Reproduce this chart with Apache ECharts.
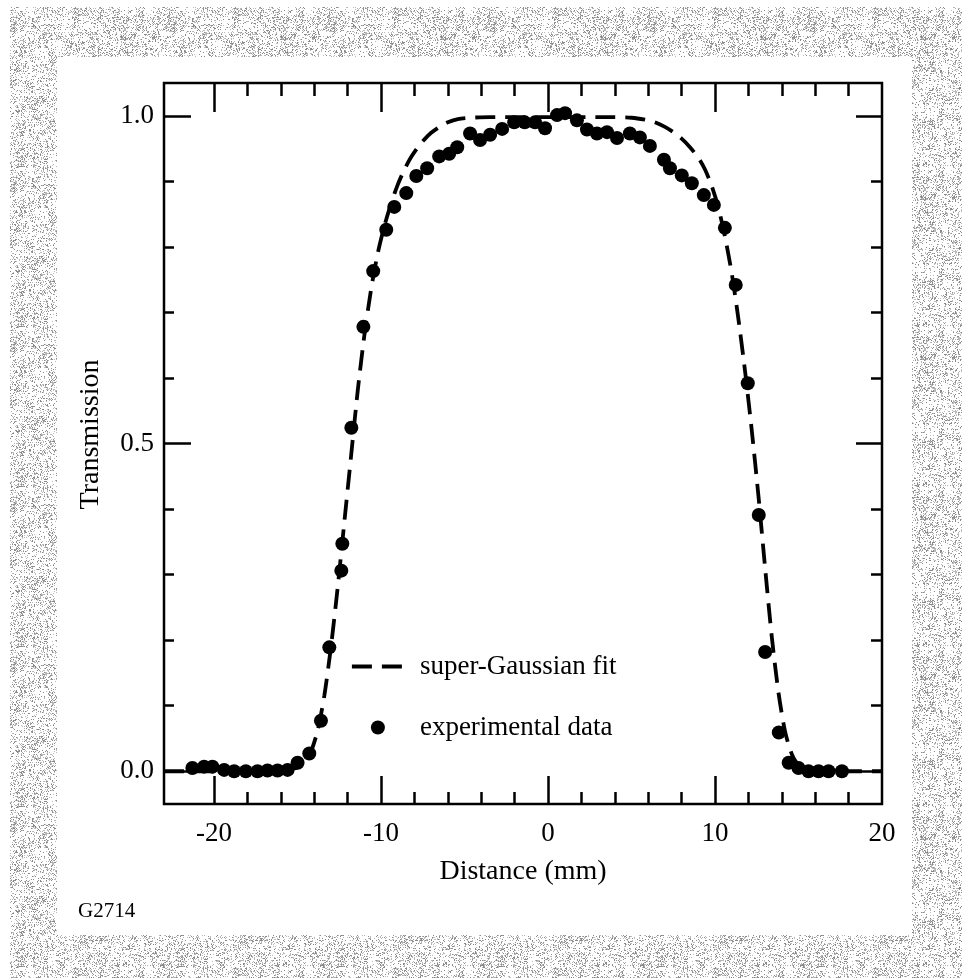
<!DOCTYPE html>
<html>
<head>
<meta charset="utf-8">
<script src="https://cdn.jsdelivr.net/npm/echarts@6/dist/echarts.min.js"></script>
<style>
  html, body { margin: 0; padding: 0; background: #fff; }
  #chart { width: 968px; height: 978px; }
</style>
</head>
<body>
<div id="chart"></div>
<script>
// Axis ticks and labels
const xTickMajor = [-20, -10, 0, 10];
const xTickMinor = [-18, -16, -14, -12, -8, -6, -4, -2, 2, 4, 6, 8, 12, 14, 16, 18];
const xTickLabels = [-20, -10, 0, 10, 20];
const yTickMajor = [0, 0.5, 1];
const yTickMinor = [0.1, 0.2, 0.3, 0.4, 0.6, 0.7, 0.8, 0.9];
const yTickLabels = [0, 0.5, 1];

// Measured transmission profile (distance in mm)
const dataDistance = [
  -21.3, -20.6, -20.1, -19.4, -18.8, -18.1, -17.4, -16.8, -16.2, -15.6,
  -15.0, -14.3, -13.6, -13.1, -12.38, -12.32, -11.78, -11.06, -10.47, -9.69,
  -9.21, -8.49, -7.89, -7.24, -6.52, -5.92, -5.44, -4.67, -4.07, -3.47,
  -2.75, -2.03, -1.4, -0.78, -0.18, 0.54, 1.02, 1.73, 2.33, 2.93,
  3.53, 4.13, 4.90, 5.50, 6.10, 6.94, 7.30, 8.01, 8.61, 9.33,
  9.93, 10.59, 11.24, 11.96, 12.62, 13.0, 13.82, 14.41, 15.0, 15.6,
  16.2, 16.8, 17.6
];
const dataTransmission = [
  0.005, 0.007, 0.007, 0.002, 0.000, 0.000, 0.000, 0.001, 0.001, 0.002,
  0.013, 0.027, 0.077, 0.189, 0.306, 0.347, 0.524, 0.678, 0.763, 0.826,
  0.861, 0.882, 0.908, 0.920, 0.938, 0.942, 0.952, 0.973, 0.963, 0.971,
  0.980, 0.990, 0.990, 0.990, 0.981, 1.001, 1.004, 0.993, 0.979, 0.973,
  0.975, 0.966, 0.973, 0.967, 0.954, 0.933, 0.920, 0.909, 0.897, 0.879,
  0.864, 0.829, 0.742, 0.592, 0.391, 0.182, 0.059, 0.013, 0.005, 0.000,
  0.000, 0.000, 0.000
];

// Super-Gaussian fit curve, sampled along the drawn fit
const fitDistance = [
  -23, -16, -15.5, -15.0, -14.6, -14.2, -13.8, -13.4, -13.0, -12.6,
  -12.2, -11.8, -11.4, -11.0, -10.6, -10.2, -9.8, -9.4, -9.0, -8.6,
  -8.2, -7.8, -7.4, -7.0, -6.5, -6.0, -5.4, -4.6, -3.5, 0,
  3.5, 5.0, 5.8, 6.4, 7.0, 7.5, 8.0, 8.5, 9.0, 9.4,
  9.8, 10.2, 10.6, 11.0, 11.4, 11.8, 12.2, 12.6, 13.0, 13.4,
  13.8, 14.2, 14.6, 15.0, 15.6, 16.5, 20
];
const fitTransmission = [
  0, 0, 0.002, 0.006, 0.014, 0.03, 0.062, 0.115, 0.19, 0.28,
  0.38, 0.48, 0.58, 0.665, 0.735, 0.79, 0.832, 0.866, 0.895, 0.918,
  0.937, 0.952, 0.964, 0.974, 0.983, 0.99, 0.995, 0.997, 0.998, 0.998,
  0.998, 0.997, 0.994, 0.99, 0.983, 0.975, 0.965, 0.952, 0.936, 0.918,
  0.893, 0.86, 0.815, 0.76, 0.69, 0.61, 0.52, 0.42, 0.31, 0.205,
  0.12, 0.06, 0.026, 0.01, 0.003, 0, 0
];

const FONT = 'Liberation Serif, Times New Roman, serif';
const INK = '#000';

const fitPoints = fitDistance.map((x, i) => [x, fitTransmission[i]]);
const dataPoints = dataDistance.map((x, i) => [x, dataTransmission[i]]);

// Integer hash used to scatter the stipple dots of the grey mat
function hash2(x, y) {
  let h = Math.imul(x, 374761393) + Math.imul(y, 668265263);
  h = Math.imul(h ^ (h >>> 13), 1274126177);
  h ^= h >>> 16;
  return (h >>> 0) / 4294967296;
}

// Stippled grey tile for the mat around the figure
function stippleTile() {
  const size = 160;
  const c = document.createElement('canvas');
  c.width = size; c.height = size;
  const g = c.getContext('2d');
  g.fillStyle = '#ffffff';
  g.fillRect(0, 0, size, size);
  for (let y = 0; y < size; y++) {
    for (let x = 0; x < size; x++) {
      const patch = hash2((x >> 3) + 101, (y >> 3) + 57);
      const density = 0.12 + 0.32 * patch;
      const v = hash2(x, y);
      if (v < density) {
        g.fillStyle = v < density * 0.45 ? '#8a8a8a' : '#b8b8b8';
        g.fillRect(x, y, 1, 1);
      }
    }
  }
  return c;
}

function tickAxis(kind, position, ticks, length, extra) {
  const base = {
    type: 'value',
    position: position,
    axisLine: { show: false, onZero: false },
    splitLine: { show: false },
    axisLabel: { show: false },
    axisTick: {
      show: true, inside: true, length: length, customValues: ticks,
      lineStyle: { color: INK, width: 2.5 }
    }
  };
  if (kind === 'x') { base.min = -23; base.max = 20; }
  else { base.min = -0.05; base.max = 1.05; }
  return Object.assign(base, extra || {});
}

const chart = echarts.init(document.getElementById('chart'), null, { renderer: 'canvas' });
const tile = stippleTile();

chart.setOption({
  animation: false,
  backgroundColor: '#fff',
  textStyle: { fontFamily: FONT, color: INK },
  graphic: [
    { type: 'rect', z: -10, silent: true,
      shape: { x: 10, y: 7, width: 952, height: 971 },
      style: { fill: { image: tile, repeat: 'repeat' } } },
    { type: 'rect', z: -9, silent: true,
      shape: { x: 57, y: 57, width: 855, height: 878 },
      style: { fill: '#ffffff' } },
    { type: 'text', left: 78, top: 901, silent: true,
      style: { text: 'G2714', font: '21px ' + FONT, fill: INK } }
  ],
  grid: {
    left: 164, right: 86, top: 83, bottom: 174,
    show: true, borderColor: INK, borderWidth: 2.5, backgroundColor: 'transparent'
  },
  xAxis: [
    tickAxis('x', 'bottom', xTickMajor, 28, {
      axisLabel: {
        show: true, customValues: xTickLabels, margin: 16,
        fontSize: 27, fontFamily: FONT, color: INK
      },
      name: 'Distance (mm)', nameLocation: 'middle', nameGap: 54,
      nameTextStyle: { fontSize: 28, fontFamily: FONT, color: INK }
    }),
    tickAxis('x', 'bottom', xTickMinor, 12),
    tickAxis('x', 'top', xTickMajor, 29),
    tickAxis('x', 'top', xTickMinor, 13)
  ],
  yAxis: [
    tickAxis('y', 'left', yTickMajor, 27, {
      axisLabel: {
        show: true, customValues: yTickLabels, margin: 10,
        fontSize: 27, fontFamily: FONT, color: INK,
        formatter: v => v.toFixed(1)
      },
      name: 'Transmission', nameLocation: 'middle', nameGap: 59,
      nameTextStyle: { fontSize: 28, fontFamily: FONT, color: INK, padding: [0, 0, 0, 18] }
    }),
    tickAxis('y', 'left', yTickMinor, 10),
    tickAxis('y', 'right', yTickMajor, 26),
    tickAxis('y', 'right', yTickMinor, 11)
  ],
  legend: {
    orient: 'vertical', left: 345, top: 648,
    itemWidth: 52, itemHeight: 14, itemGap: 34,
    textStyle: { fontSize: 27, fontFamily: FONT, color: INK, padding: [0, 0, 0, 11] },
    data: [
      { name: 'super-Gaussian fit',
        itemStyle: { opacity: 0 },
        lineStyle: { color: INK, width: 3.8, type: [20, 10], opacity: 1 } },
      { name: 'experimental data',
        itemStyle: { color: INK, opacity: 1 } }
    ]
  },
  series: [
    {
      name: 'super-Gaussian fit', type: 'line', data: fitPoints,
      xAxisIndex: 0, yAxisIndex: 0,
      symbol: 'none', smooth: 0.25,
      lineStyle: { color: INK, width: 3.8, type: [20, 10] },
      itemStyle: { color: INK },
      z: 2
    },
    {
      name: 'experimental data', type: 'scatter', data: dataPoints,
      xAxisIndex: 0, yAxisIndex: 0,
      symbol: 'circle', symbolSize: 14,
      itemStyle: { color: INK, opacity: 1 },
      z: 3
    }
  ]
});
</script>
</body>
</html>
